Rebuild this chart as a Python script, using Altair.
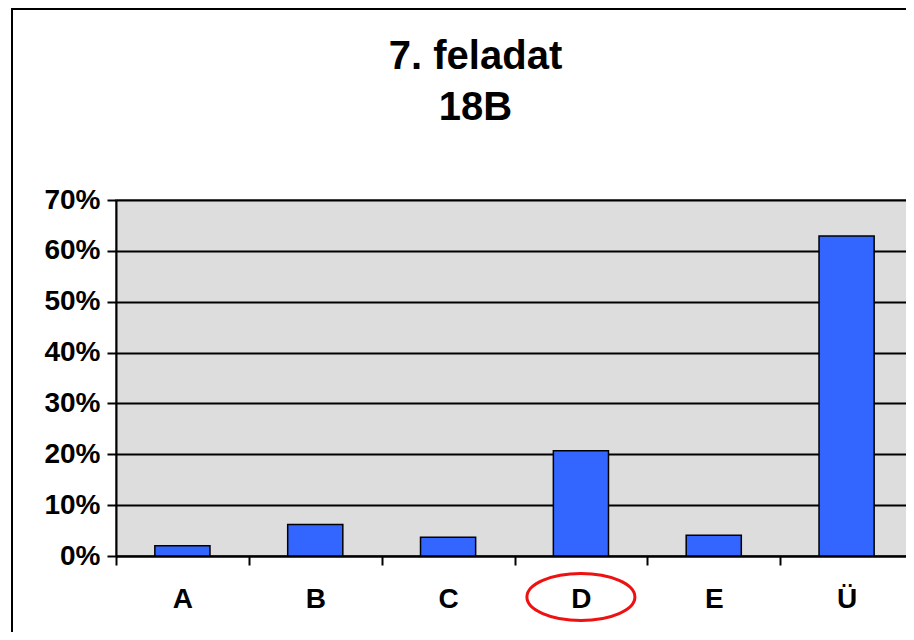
import altair as alt
import pandas as pd

categories = ["A", "B", "C", "D", "E", "Ü"]
shares = [0.020, 0.062, 0.037, 0.207, 0.041, 0.629]
y_ticks = [0, 0.1, 0.2, 0.3, 0.4, 0.5, 0.6, 0.7]
title_lines = ["7. feladat", "18B"]
marked = ["D"]

FONT = "Liberation Sans"

df = pd.DataFrame({"cat": categories, "share": shares})

x_enc = alt.X(
    "cat:N",
    sort=categories,
    scale=alt.Scale(paddingInner=0, paddingOuter=0),
    axis=alt.Axis(
        title=None,
        labelAngle=0,
        labelFont=FONT,
        labelFontSize=28,
        labelFontWeight="bold",
        labelColor="black",
        labelPadding=20,
        tickBand="extent",
        tickSize=9,
        tickColor="black",
        tickWidth=2,
        domainColor="black",
        domainWidth=2,
        grid=False,
    ),
)

frame = alt.Chart(alt.Data(values=[{}])).mark_rect(
    fillOpacity=0, stroke="black", strokeWidth=2
).encode(
    x=alt.value(-104), x2=alt.value(900), y=alt.value(-191), y2=alt.value(520)
)

bars = alt.Chart(df).mark_bar(
    width=alt.RelativeBandSize(0.415),
    color="#3366FF",
    stroke="black",
    strokeWidth=1.5,
).encode(
    x=x_enc,
    y=alt.Y(
        "share:Q",
        scale=alt.Scale(domain=[0, 0.7], nice=False),
        axis=alt.Axis(
            title=None,
            values=y_ticks,
            format=".0%",
            labelFont=FONT,
            labelFontSize=28,
            labelFontWeight="bold",
            labelColor="black",
            labelPadding=7,
            tickSize=9,
            tickColor="black",
            tickWidth=2,
            domainColor="black",
            domainWidth=2,
            grid=True,
            gridColor="black",
            gridWidth=1.8,
        ),
    ),
)

ellipse = alt.Chart(pd.DataFrame({"cat": marked})).mark_point(
    shape="M-1,0A1,0.435,0,1,1,1,0A1,0.435,0,1,1,-1,0Z",
    size=11664,
    filled=False,
    stroke="#EE1111",
    strokeWidth=3,
    opacity=1,
    clip=False,
).encode(x=alt.X("cat:N", sort=categories), y=alt.value(397))

chart = alt.layer(frame, bars, ellipse).properties(
    width=797,
    height=356,
    autosize=alt.AutoSizeParams(type="none"),
    padding={"left": 108, "top": 192, "right": -7, "bottom": 76},
    title=alt.TitleParams(
        title_lines,
        font=FONT,
        fontSize=40,
        fontWeight="bold",
        color="black",
        lineHeight=51,
        anchor="middle",
        frame="group",
        dx=-39,
        offset=-120,
    ),
).configure_view(
    fill="#DDDDDD", stroke="#808080", strokeWidth=2
)

chart.save("out.html", embed_options={"renderer": "svg", "actions": False})
